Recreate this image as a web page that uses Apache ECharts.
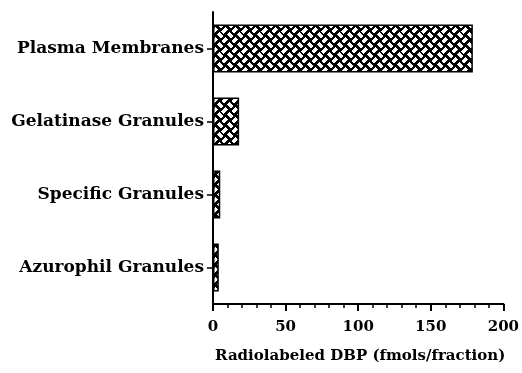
<!DOCTYPE html>
<html><head><meta charset="utf-8">
<script src="https://cdn.jsdelivr.net/npm/echarts@6/dist/echarts.min.js"></script>
<style>html,body{margin:0;padding:0;background:#fff}#c{width:522px;height:373px}</style>
</head><body><div id="c"></div>
<script>
var categories = ["Plasma Membranes", "Gelatinase Granules", "Specific Granules", "Azurophil Granules"];
var values = [179, 18, 5, 4];
var xTicks = [0, 50, 100, 150, 200];
var xTitle = "Radiolabeled DBP (fmols/fraction)";

function makePattern() {
  var a = 10, s = 2 * a, c = a / Math.SQRT2;
  var cv = document.createElement('canvas');
  cv.width = s; cv.height = s;
  var g = cv.getContext('2d');
  var img = g.createImageData(s, s);
  var w = 3.0, gap = 0.9;
  for (var y = 0; y < s; y++) {
    for (var x = 0; x < s; x++) {
      var px = x + 0.5, py = y + 0.5;
      var u = (px + py) / Math.SQRT2, v = (py - px) / Math.SQRT2 + 100 * c;
      var i = Math.floor(u / c), j = Math.floor(v / c);
      var fu = u - i * c, fv = v - j * c;
      var white;
      if (((i + j) % 2 + 2) % 2 === 0) {
        white = Math.abs(fv - c / 2) < w / 2 && fu > gap && fu < c - gap + 1.5;
      } else {
        white = Math.abs(fu - c / 2) < w / 2 && fv > gap && fv < c - gap + 1.5;
      }
      var k = (y * s + x) * 4, col = white ? 255 : 0;
      img.data[k] = col; img.data[k + 1] = col; img.data[k + 2] = col; img.data[k + 3] = 255;
    }
  }
  g.putImageData(img, 0, 0);
  return cv;
}
var chart = echarts.init(document.getElementById('c'), null, {renderer: 'canvas'});
var font = 'DejaVu Serif';
chart.setOption({
  animation: false,
  grid: {left: 213, right: 17, top: 12, bottom: 69, containLabel: false},
  xAxis: {
    type: 'value', min: xTicks[0], max: xTicks[xTicks.length - 1], interval: 50,
    axisLine: {show: true, lineStyle: {color: '#000', width: 2}},
    axisTick: {show: true, length: 7, lineStyle: {color: '#000', width: 2}},
    minorTick: {show: true, splitNumber: 5, length: 4, lineStyle: {color: '#000', width: 1.5}},
    splitLine: {show: false},
    axisLabel: {color: '#000', fontFamily: font, fontWeight: 'bold', fontSize: 15, margin: 16},
    name: xTitle, nameLocation: 'middle', nameGap: 45,
    nameTextStyle: {color: '#000', fontFamily: font, fontWeight: 'bold', fontSize: 15, padding: [0, 0, 0, 4]}
  },
  yAxis: {
    type: 'category', data: categories, inverse: true,
    axisLine: {show: true, lineStyle: {color: '#000', width: 2}},
    axisTick: {show: true, alignWithLabel: true, length: 6, lineStyle: {color: '#000', width: 1.5}},
    axisLabel: {color: '#000', fontFamily: font, fontWeight: 'bold', fontSize: 17, margin: 9}
  },
  series: [{
    type: 'bar', data: values, barWidth: '66%',
    itemStyle: {color: {image: makePattern(), repeat: 'repeat'}, borderColor: '#000', borderWidth: 1.5}
  }]
});
</script></body></html>
